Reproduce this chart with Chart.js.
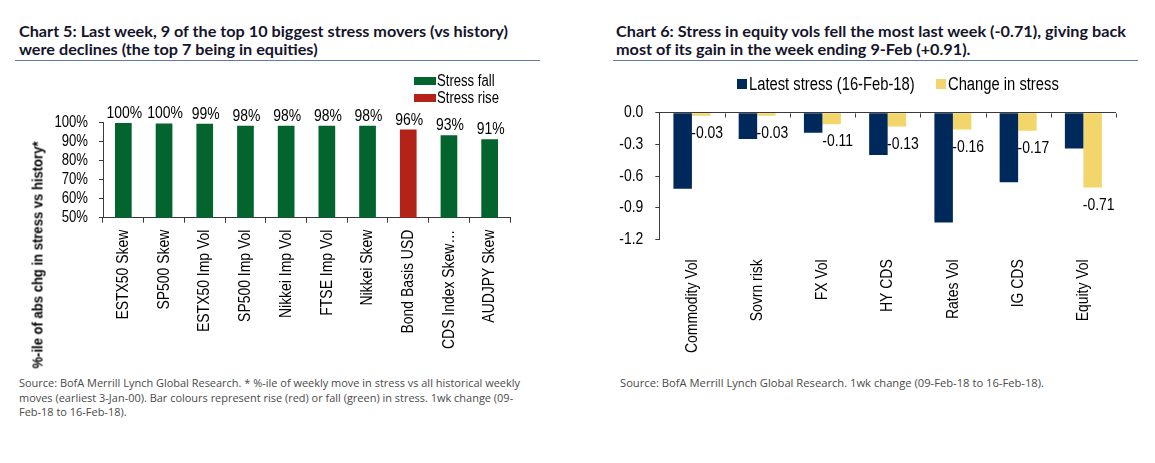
<!DOCTYPE html>
<html>
<head>
<meta charset="utf-8">
<script src="https://cdn.jsdelivr.net/npm/chart.js@4.4.1/dist/chart.umd.min.js"></script>
<style>
  html, body { margin: 0; padding: 0; background: #fff; }
  body { width: 1155px; height: 463px; position: relative; overflow: hidden;
         font-family: 'Liberation Sans', Arial, sans-serif; }
  .fit { transform-origin: 0 0; }
  .title { position: absolute; top: 22px; font-weight: bold; font-size: 16px; line-height: 18.3px;
           color: #14142b; white-space: nowrap; font-family: Lato, 'Liberation Sans', sans-serif; }
  .rule { position: absolute; top: 60px; height: 0; border-top: 1.5px solid #5b7bab; }
  .src { position: absolute; top: 376px; font-size: 11.5px; line-height: 14.7px; color: #4a4a4a; white-space: nowrap;
         font-family: 'Open Sans', 'Liberation Sans', sans-serif; }
  .leg { position: absolute; font-size: 16px; line-height: 18px; color: #000; white-space: nowrap;
         transform: scaleX(0.82); transform-origin: 0 0; }
  .box { position: absolute; }
  .ytitle { position: absolute; left: 37px; top: 255px; font-weight: bold; font-size: 15px; white-space: nowrap; color: #000; }
  canvas { position: absolute; }
</style>
</head>
<body>
<div class="title fit" data-w="489" style="left:19px"><span>Chart 5: Last week, 9 of the top 10 biggest stress movers (vs history)</span><br>were declines (the top 7 being in equities)</div>
<div class="rule" style="left:15px; width:525px"></div>
<div class="title fit" data-w="510" style="left:616px"><span>Chart 6: Stress in equity vols fell the most last week (-0.71), giving back</span><br>most of its gain in the week ending 9-Feb (+0.91).</div>
<div class="rule" style="left:613px; width:525px"></div>

<div id="wrap5" style="position:absolute; left:0; top:0; width:560px; height:370px;">
  <canvas id="c5"></canvas>
</div>
<div id="wrap6" style="position:absolute; left:580px; top:0; width:575px; height:370px;">
  <canvas id="c6"></canvas>
</div>

<div class="ytitle" id="ytitle" data-w="227"><span>%-ile of abs chg in stress vs history*</span></div>

<div class="box" style="left:414px; top:77px; width:22px; height:8px; background:#03642e"></div>
<div class="leg" style="left:437px; top:72px">Stress fall</div>
<div class="box" style="left:414px; top:93.5px; width:22px; height:8px; background:#b42318"></div>
<div class="leg" style="left:437px; top:89px">Stress rise</div>

<div class="box" style="left:737px; top:79px; width:10px; height:10px; background:#00295b"></div>
<div class="leg" style="left:749px; top:74.5px; font-size:18px">Latest stress (16-Feb-18)</div>
<div class="box" style="left:936px; top:79px; width:10px; height:10px; background:#f3d66b"></div>
<div class="leg" style="left:948px; top:74.5px; font-size:18px">Change in stress</div>

<div class="src fit" data-w="501" style="left:19px"><span>Source: BofA Merrill Lynch Global Research. * %-ile of weekly move in stress vs all historical weekly</span><br>moves (earliest 3-Jan-00). Bar colours represent rise (red) or fall (green) in stress. 1wk change (09-<br>Feb-18 to 16-Feb-18).</div>
<div class="src fit" data-w="424" style="left:620px"><span>Source: BofA Merrill Lynch Global Research. 1wk change (09-Feb-18 to 16-Feb-18).</span></div>

<script>
// ---------- Chart 5 data ----------
const movers = ['ESTX50 Skew', 'SP500 Skew', 'ESTX50 Imp Vol', 'SP500 Imp Vol', 'Nikkei Imp Vol',
                'FTSE Imp Vol', 'Nikkei Skew', 'Bond Basis USD', 'CDS Index Skew…', 'AUDJPY Skew'];
const stressFall = [99.9, 99.6, 99.4, 98.4, 98.4, 98.4, 98.4, null, 93.4, 91.3];
const stressRise = [null, null, null, null, null, null, null, 96.4, null, null];
const pctTicks = [50, 60, 70, 80, 90, 100];

// ---------- Chart 6 data ----------
const assets = ['Commodity Vol', 'Sovrn risk', 'FX Vol', 'HY CDS', 'Rates Vol', 'IG CDS', 'Equity Vol'];
const latestStress = [-0.72, -0.25, -0.19, -0.40, -1.04, -0.66, -0.34];
const changeStress = [-0.03, -0.03, -0.11, -0.13, -0.16, -0.17, -0.71];
const stressTicks = [-1.2, -0.9, -0.6, -0.3, 0.0];

// fit HTML text blocks to the widths measured on the reference
document.querySelectorAll('.fit').forEach(el => {
  const w = el.querySelector('span').getBoundingClientRect().width;
  el.style.transform = 'scaleX(' + (Number(el.dataset.w) / w) + ')';
});
(function () {
  const el = document.getElementById('ytitle');
  const w = el.querySelector('span').getBoundingClientRect().width;
  el.style.transform = 'translate(-50%, -50%) rotate(-90deg) scaleX(' + (Number(el.dataset.w) / w) + ')';
})();

const FONT = "'Liberation Sans', Arial, sans-serif";
const NARROW = 0.82; // Arial Narrow ≈ Arial compressed horizontally
const AXIS = '#3a3a3a';
const GREEN = '#03642e', RED = '#b42318', NAVY = '#00295b', YELLOW = '#f3d66b';

Chart.defaults.font.family = FONT;
Chart.defaults.color = '#000';
Chart.defaults.animation = false;
Chart.defaults.devicePixelRatio = 1;

function narrowContext(canvas, k) {
  const ctx = canvas.getContext('2d');
  const ft = CanvasRenderingContext2D.prototype.fillText;
  const mt = CanvasRenderingContext2D.prototype.measureText;
  ctx.fillText = function (text, x, y, maxWidth) {
    this.save();
    this.translate(x, y);
    this.scale(k, 1);
    if (maxWidth !== undefined) ft.call(this, text, 0, 0, maxWidth / k); else ft.call(this, text, 0, 0);
    this.restore();
  };
  ctx.measureText = function (text) {
    const m = mt.call(this, text);
    return {
      width: m.width * k,
      actualBoundingBoxAscent: m.actualBoundingBoxAscent,
      actualBoundingBoxDescent: m.actualBoundingBoxDescent,
      actualBoundingBoxLeft: m.actualBoundingBoxLeft * k,
      actualBoundingBoxRight: m.actualBoundingBoxRight * k
    };
  };
  return canvas;
}

function labelPlugin(cfg) {
  return {
    id: 'lbl' + cfg.key,
    afterDatasetsDraw(chart) {
      const ctx = chart.ctx;
      ctx.save();
      ctx.font = cfg.font;
      ctx.fillStyle = '#000';
      ctx.textAlign = 'center';
      ctx.textBaseline = cfg.baseline;
      chart.data.datasets.forEach((ds, di) => {
        if (cfg.datasets && cfg.datasets.indexOf(di) < 0) return;
        chart.getDatasetMeta(di).data.forEach((el, i) => {
          const v = ds.data[i];
          if (v === null || v === undefined) return;
          ctx.fillText(cfg.format(v), el.x + cfg.dx, el.y + cfg.dy);
        });
      });
      ctx.restore();
    }
  };
}

const zeroTicks = {
  id: 'zeroTicks',
  afterDraw(chart) {
    const xs = chart.scales.x, ys = chart.scales.y, ctx = chart.ctx;
    const y0 = Math.round(ys.getPixelForValue(0)) + 0.5;
    ctx.save();
    ctx.strokeStyle = AXIS;
    ctx.lineWidth = 1;
    ctx.beginPath();
    for (let i = 1; i <= chart.data.labels.length; i++) {
      const px = Math.round(xs.getPixelForValue(i - 0.5)) + 0.5;
      ctx.moveTo(px, y0);
      ctx.lineTo(px, y0 + 4);
    }
    ctx.stroke();
    ctx.restore();
  }
};

// ---------- Chart 5 ----------
new Chart(narrowContext(document.getElementById('c5'), NARROW), {
  type: 'bar',
  data: {
    labels: movers,
    datasets: [
      { label: 'Stress fall', data: stressFall, backgroundColor: GREEN },
      { label: 'Stress rise', data: stressRise, backgroundColor: RED }
    ]
  },
  options: {
    responsive: true, maintainAspectRatio: false,
    layout: { padding: { left: 43, right: 50, top: 122.7, bottom: 12.3 } },
    plugins: { legend: { display: false }, tooltip: { enabled: false } },
    datasets: { bar: { grouped: false, categoryPercentage: 1, barPercentage: 0.41 } },
    scales: {
      x: {
        grid: { offset: true, drawOnChartArea: false, tickLength: 5, color: AXIS },
        border: { display: true, color: AXIS },
        ticks: { font: { size: 17 }, color: '#000', minRotation: 90, maxRotation: 90, padding: 7, autoSkip: false },
        afterFit(s) { s.height = 140; }
      },
      y: {
        min: 50, max: 100,
        afterBuildTicks(s) { s.ticks = pctTicks.map(v => ({ value: v })); },
        grid: { drawOnChartArea: false, tickLength: 4, color: AXIS },
        border: { display: true, color: AXIS },
        ticks: { font: { size: 16 }, color: '#000', padding: 11, autoSkip: false, callback: v => v + '%' },
        afterFit(s) { s.width = 60; }
      }
    }
  },
  plugins: [labelPlugin({ key: 5, font: '17px ' + FONT, baseline: 'alphabetic', dx: 1, dy: -5,
                          format: v => Math.round(v) + '%' })]
});

// ---------- Chart 6 ----------
new Chart(narrowContext(document.getElementById('c6'), NARROW), {
  type: 'bar',
  data: {
    labels: assets,
    datasets: [
      { label: 'Latest stress (16-Feb-18)', data: latestStress, backgroundColor: NAVY },
      { label: 'Change in stress', data: changeStress, backgroundColor: YELLOW }
    ]
  },
  options: {
    responsive: true, maintainAspectRatio: false,
    layout: { padding: { left: 19.3, right: 39, top: 112.7, bottom: 0.7 } },
    plugins: { legend: { display: false }, tooltip: { enabled: false } },
    datasets: { bar: { categoryPercentage: 0.567, barPercentage: 1 } },
    scales: {
      x: {
        grid: { display: false },
        border: { display: false },
        ticks: { font: { size: 17 }, color: '#000', minRotation: 90, maxRotation: 90, padding: 12, autoSkip: false },
        afterFit(s) { s.height = 130; }
      },
      y: {
        min: -1.2, max: 0,
        afterBuildTicks(s) { s.ticks = stressTicks.map(v => ({ value: v })); },
        grid: {
          drawOnChartArea: true, tickLength: 4, tickColor: AXIS,
          color: c => (c.tick && Math.abs(c.tick.value) < 1e-9) ? AXIS : 'rgba(0,0,0,0)'
        },
        border: { display: true, color: AXIS },
        ticks: { font: { size: 17 }, color: '#000', padding: 12, autoSkip: false, callback: v => Number(v).toFixed(1) },
        afterFit(s) { s.width = 60; }
      }
    }
  },
  plugins: [zeroTicks, labelPlugin({ key: 6, datasets: [1], font: '17px ' + FONT, baseline: 'top', dx: 6, dy: 9,
                                     format: v => v.toFixed(2) })]
});
</script>
</body>
</html>
